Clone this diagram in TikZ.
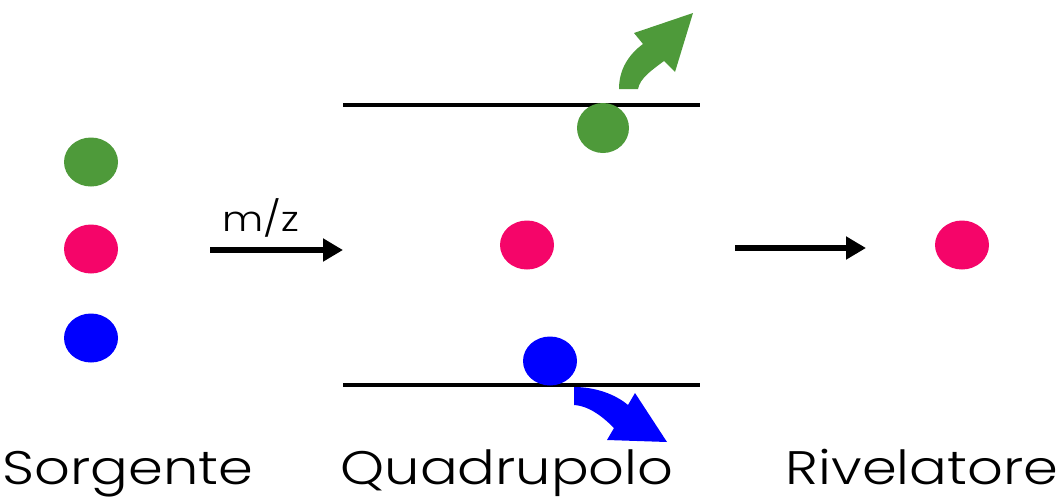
\documentclass[tikz,border=0pt]{standalone}
\usepackage{fontspec}
\setmainfont{Poppins Light}
\usetikzlibrary{shapes.geometric,arrows.meta}
\definecolor{ggreen}{RGB}{78,154,58}
\definecolor{gpink}{RGB}{245,5,105}
\definecolor{gblue}{RGB}{0,0,255}
\tikzset{
  dot/.style={ellipse,minimum width=54pt,minimum height=49pt,inner sep=0pt},
  plate/.style={line width=4pt},
  flow/.style={line width=6pt,-{Triangle[length=20pt,width=22pt]}},
  lbl/.style={font=\fontsize{47}{50}\selectfont,inner sep=0pt,anchor=base}
}
\begin{document}
\begin{tikzpicture}[x=1pt,y=-1pt]
\useasboundingbox (0,0) rectangle (1060,501);
% source ions
\node[dot,fill=ggreen] (s1) at (91,162) {};
\node[dot,fill=gpink] (s2) at (91,249) {};
\node[dot,fill=gblue] (s3) at (91,338) {};
% m/z arrow
\coordinate (a1s) at (210,250);
\coordinate (a1e) at (343,250);
\draw[flow] (a1s) -- (a1e);
\node[font=\fontsize{35}{36}\selectfont,inner sep=0pt,anchor=base] (mz) at (261,231) {\scalebox{1.15}[1]{m/z}};
% quadrupole plates
\coordinate (p1a) at (343,105);
\coordinate (p1b) at (700,105);
\coordinate (p2a) at (343,385);
\coordinate (p2b) at (700,385);
\draw[plate] (p1a) -- (p1b);
\draw[plate] (p2a) -- (p2b);
% ions in quadrupole
\node[dot,fill=ggreen,minimum width=52pt,minimum height=50pt] (q1) at (603,128) {};
\node[dot,fill=gpink] (q2) at (527,245) {};
\node[dot,fill=gblue] (q3) at (550,361) {};
% green deflection arrow
\fill[ggreen] (619,89) .. controls (619,70) and (628,55) .. (643,44) -- (634,33) -- (693,13) -- (675,72) -- (664,61) .. controls (652,70) and (640,78) .. (638,89) -- cycle;
% blue deflection arrow
\fill[gblue] (574,387) .. controls (595,387) and (615,394) .. (628,405) -- (635,393) -- (667,442) -- (607,440) -- (614,428) .. controls (604,418) and (590,406) .. (574,405) -- cycle;
% detector arrow
\coordinate (a2s) at (735,248);
\coordinate (a2e) at (866,248);
\draw[flow] (a2s) -- (a2e);
\node[dot,fill=gpink] (r1) at (962,245) {};
% labels
\node[lbl] (l1) at (128,484) {\scalebox{1.19}[1]{Sorgente}};
\node[lbl] (l2) at (507,484) {\scalebox{1.19}[1]{Quadrupolo}};
\node[lbl] (l3) at (922,484) {\scalebox{1.19}[1]{Rivelatore}};
\end{tikzpicture}
\end{document}
